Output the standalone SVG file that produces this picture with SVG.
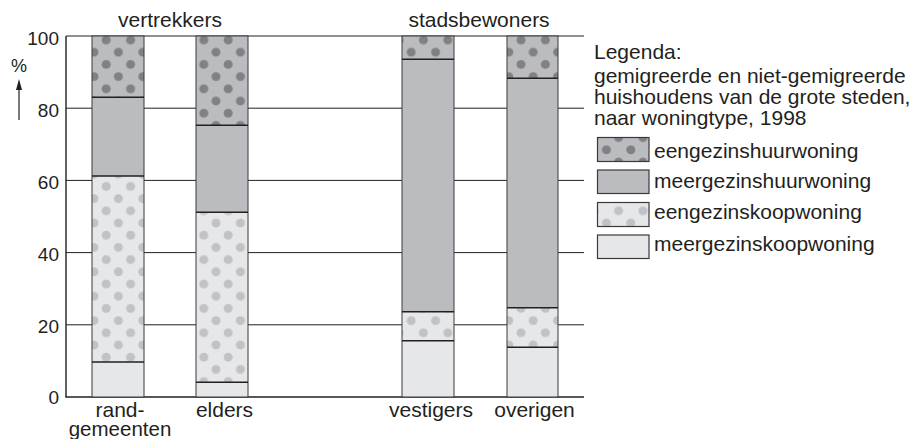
<svg xmlns="http://www.w3.org/2000/svg" width="924" height="439" viewBox="0 0 924 439">
<style>
text{font-family:"Liberation Sans",Arial,Helvetica,sans-serif;fill:#231f20}
.t{font-size:21px}
.tick{font-size:19px;text-anchor:end}
.mid{text-anchor:middle}
.grid{stroke:#231f20;stroke-width:1;fill:none}
.seg{stroke:#3a3a3c;stroke-width:1}
.div{stroke:#231f20;stroke-width:1.6}
.box{stroke:#3a3a3c;stroke-width:1.2}
.eh{fill:url(#darkdots)}
.mh{fill:#bbbcc0}
.ek{fill:url(#lightdots)}
.mk{fill:#e6e7e9}
</style>
<defs>
<pattern id="darkdots" patternUnits="userSpaceOnUse" x="2.5" y="9.5" width="24.4" height="24.4">
<rect width="24.4" height="24.4" fill="#bbbcc0"/>
<circle cx="6.1" cy="6.1" r="4.5" fill="#808185"/>
<circle cx="18.3" cy="18.3" r="4.5" fill="#808185"/>
</pattern>
<pattern id="lightdots" patternUnits="userSpaceOnUse" x="2.5" y="9.5" width="24.4" height="24.4">
<rect width="24.4" height="24.4" fill="#e6e7e9"/>
<circle cx="6.1" cy="6.1" r="4.5" fill="#c1c2c5"/>
<circle cx="18.3" cy="18.3" r="4.5" fill="#c1c2c5"/>
</pattern>
</defs>

<g id="axes">
<line class="grid" x1="66" y1="36" x2="584" y2="36"/>
<line class="grid" x1="66" y1="108.2" x2="584" y2="108.2"/>
<line class="grid" x1="66" y1="180.4" x2="584" y2="180.4"/>
<line class="grid" x1="66" y1="252.6" x2="584" y2="252.6"/>
<line class="grid" x1="66" y1="324.8" x2="584" y2="324.8"/>
<line x1="66" y1="36" x2="66" y2="397" stroke="#231f20" stroke-width="1.4"/>
<line x1="65.3" y1="397" x2="584" y2="397" stroke="#231f20" stroke-width="1.6"/>
<text class="tick" x="59" y="44.5">100</text>
<text class="tick" x="59" y="116.5">80</text>
<text class="tick" x="59" y="188.5">60</text>
<text class="tick" x="59" y="260.5">40</text>
<text class="tick" x="59" y="332.5">20</text>
<text class="tick" x="59" y="404">0</text>
<text x="19" y="71.5" style="font-size:18px;text-anchor:middle">%</text>
<line x1="19" y1="88" x2="19" y2="120" stroke="#231f20" stroke-width="1.2"/>
<polygon points="19,79 22,90 16,90" fill="#231f20"/>
<text class="t mid" x="170" y="27">vertrekkers</text>
<text class="t mid" x="479" y="27">stadsbewoners</text>
<text class="t mid" x="120" y="416.5">rand-</text>
<text class="mid" x="120" y="435.5" style="font-size:20.5px">gemeenten</text>
<text class="t mid" x="224.5" y="417">elders</text>
<text class="t mid" x="431" y="417">vestigers</text>
<text class="t mid" x="534.5" y="417">overigen</text>
</g>

<g id="bar-randgemeenten">
<rect class="eh" x="92" y="36" width="52" height="61.2"/>
<rect class="mh" x="92" y="97.2" width="52" height="78.8"/>
<rect class="ek" x="92" y="176" width="52" height="186"/>
<rect class="mk" x="92" y="362" width="52" height="35"/>
<rect class="seg" x="92" y="36" width="52" height="361" fill="none"/>
<line class="div" x1="92" y1="97.2" x2="144" y2="97.2"/>
<line class="div" x1="92" y1="176" x2="144" y2="176"/>
<line class="div" x1="92" y1="362" x2="144" y2="362"/>
</g>

<g id="bar-elders">
<rect class="eh" x="196" y="36" width="52" height="89.3"/>
<rect class="mh" x="196" y="125.3" width="52" height="87"/>
<rect class="ek" x="196" y="212.3" width="52" height="170"/>
<rect class="mk" x="196" y="382.3" width="52" height="14.7"/>
<rect class="seg" x="196" y="36" width="52" height="361" fill="none"/>
<line class="div" x1="196" y1="125.3" x2="248" y2="125.3"/>
<line class="div" x1="196" y1="212.3" x2="248" y2="212.3"/>
<line class="div" x1="196" y1="382.3" x2="248" y2="382.3"/>
</g>

<g id="bar-vestigers">
<rect class="eh" x="402" y="36" width="52" height="23.3"/>
<rect class="mh" x="402" y="59.3" width="52" height="252.4"/>
<rect class="ek" x="402" y="311.7" width="52" height="29"/>
<rect class="mk" x="402" y="340.7" width="52" height="56.3"/>
<rect class="seg" x="402" y="36" width="52" height="361" fill="none"/>
<line class="div" x1="402" y1="59.3" x2="454" y2="59.3"/>
<line class="div" x1="402" y1="311.7" x2="454" y2="311.7"/>
<line class="div" x1="402" y1="340.7" x2="454" y2="340.7"/>
</g>

<g id="bar-overigen">
<rect class="eh" x="507" y="36" width="51" height="42.3"/>
<rect class="mh" x="507" y="78.3" width="51" height="229.4"/>
<rect class="ek" x="507" y="307.7" width="51" height="39.6"/>
<rect class="mk" x="507" y="347.3" width="51" height="49.7"/>
<rect class="seg" x="507" y="36" width="51" height="361" fill="none"/>
<line class="div" x1="507" y1="78.3" x2="558" y2="78.3"/>
<line class="div" x1="507" y1="307.7" x2="558" y2="307.7"/>
<line class="div" x1="507" y1="347.3" x2="558" y2="347.3"/>
</g>

<g id="legend">
<text class="t" x="594" y="59.3">Legenda:</text>
<text class="t" x="594" y="83.3">gemigreerde en niet-gemigreerde</text>
<text class="t" x="594" y="104.3">huishoudens van de grote steden,</text>
<text class="t" x="594" y="125.3">naar woningtype, 1998</text>
<g id="legend-eengezinshuurwoning">
<rect class="eh box" x="597.5" y="137.5" width="51.5" height="24"/>
<text class="t" x="654" y="157.5">eengezinshuurwoning</text>
</g>
<g id="legend-meergezinshuurwoning">
<rect class="mh box" x="597.5" y="170" width="51.5" height="23.5"/>
<text class="t" x="654" y="187.5">meergezinshuurwoning</text>
</g>
<g id="legend-eengezinskoopwoning">
<rect class="ek box" x="597.5" y="202.5" width="51.5" height="24"/>
<text class="t" x="654" y="219">eengezinskoopwoning</text>
</g>
<g id="legend-meergezinskoopwoning">
<rect class="mk box" x="597.5" y="235" width="51.5" height="23.5"/>
<text class="t" x="654" y="250.5">meergezinskoopwoning</text>
</g>
</g>
</svg>
